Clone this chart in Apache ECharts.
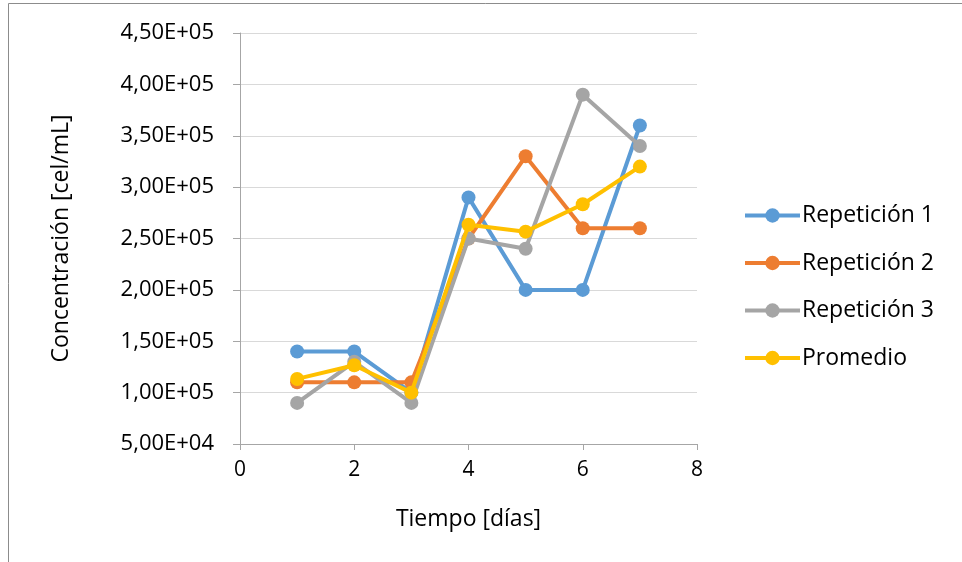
<!DOCTYPE html>
<html>
<head>
<meta charset="utf-8">
<script src="https://cdn.jsdelivr.net/npm/echarts@6/dist/echarts.min.js"></script>
<style>
  html, body { margin: 0; padding: 0; background: #fff; }
  #chart { width: 962px; height: 562px; }
</style>
</head>
<body>
<div id="chart"></div>
<script>
// Days of measurement
const days = [1, 2, 3, 4, 5, 6, 7];
// Cell concentration (cel/mL) per replicate
const rep1 = [140000, 140000, 100000, 290000, 200000, 200000, 360000];
const rep2 = [110000, 110000, 110000, 250000, 330000, 260000, 260000];
const rep3 = [90000, 130000, 90000, 250000, 240000, 390000, 340000];
const promedio = [113333, 126667, 100000, 263333, 256667, 283333, 320000];
const seriesNames = ['Repetición 1', 'Repetición 2', 'Repetición 3', 'Promedio'];
const seriesColors = ['#5b9bd5', '#ed7d31', '#a5a5a5', '#ffc000'];

const FONT = 'Open Sans';

function sci(v) {
  // Format as d,ddE+0x
  const exp = Math.floor(Math.log10(Math.abs(v)));
  const mant = v / Math.pow(10, exp);
  const e = (exp < 10 ? '0' : '') + exp;
  return mant.toFixed(2).replace('.', ',') + 'E+' + e;
}

const chart = echarts.init(document.getElementById('chart'));
const allData = [rep1, rep2, rep3, promedio];

chart.setOption({
  animation: false,
  backgroundColor: '#fff',
  graphic: [{
    type: 'rect',
    shape: { x: 8.5, y: 3.5, width: 1000, height: 700 },
    style: { fill: 'none', stroke: '#8c8c8c', lineWidth: 1 },
    silent: true
  }],
  grid: { left: 240, top: 33, width: 457, height: 411 },
  legend: {
    orient: 'vertical',
    left: 738,
    top: 199,
    itemWidth: 55,
    itemHeight: 18,
    itemGap: 24.5,
    lineStyle: { width: 4 },
    textStyle: { fontFamily: FONT, fontSize: 23, color: '#000', padding: [0, 0, 0, -3] },
    data: seriesNames
  },
  xAxis: {
    type: 'value',
    min: 0, max: 8, interval: 2,
    name: 'Tiempo [días]',
    nameLocation: 'middle',
    nameGap: 64,
    nameTextStyle: { fontFamily: FONT, fontSize: 23, color: '#000' },
    axisLine: { show: true, lineStyle: { color: '#a6a6a6', width: 1 } },
    axisTick: { show: true, length: 6, lineStyle: { color: '#a6a6a6' } },
    axisLabel: { fontFamily: FONT, fontSize: 21, color: '#000', margin: 16 },
    splitLine: { show: false }
  },
  yAxis: {
    type: 'value',
    min: 50000, max: 450000, interval: 50000,
    name: 'Concentración [cel/mL]',
    nameLocation: 'middle',
    nameGap: 167,
    nameRotate: 90,
    nameTextStyle: { fontFamily: FONT, fontSize: 23, color: '#000' },
    axisLine: { show: true, lineStyle: { color: '#a6a6a6', width: 1 } },
    axisTick: { show: true, length: 7, lineStyle: { color: '#a6a6a6' } },
    axisLabel: { fontFamily: FONT, fontSize: 22, color: '#000', margin: 26, formatter: sci },
    splitLine: { show: true, lineStyle: { color: '#d9d9d9', width: 1 } }
  },
  series: seriesNames.map((name, i) => ({
    name: name,
    type: 'line',
    data: days.map((d, j) => [d, allData[i][j]]),
    symbol: 'circle',
    symbolSize: 14,
    lineStyle: { width: 4, color: seriesColors[i] },
    itemStyle: { color: seriesColors[i] },
    z: 2 + i
  }))
});
</script>
</body>
</html>
